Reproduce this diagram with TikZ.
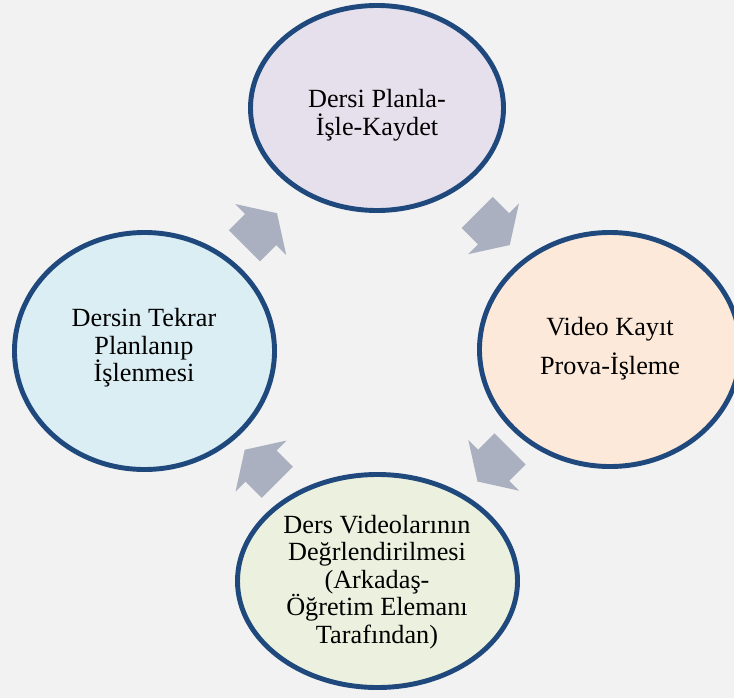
\documentclass[tikz,border=0pt]{standalone}
\usepackage{fontspec}
\setmainfont{Liberation Serif}
\usetikzlibrary{shapes.geometric,calc}
\definecolor{zemin}{HTML}{F2F2F2}
\definecolor{kenar}{HTML}{1F497D}
\definecolor{okgri}{HTML}{AAB0C0}
\definecolor{mor}{HTML}{E5E0EC}
\definecolor{seftali}{HTML}{FDE9D9}
\definecolor{yesil}{HTML}{EBF1DE}
\definecolor{mavi}{HTML}{DBEEF4}

\begin{document}
\begin{tikzpicture}[x=0.03cm, y=-0.03cm,
  halka/.style={draw=kenar, ellipse, line width=4.2pt, inner sep=0pt},
  yazi/.style={align=center, font=\fontsize{22.4}{23.5}\selectfont}]
\fill[zemin] (0,0) rectangle (734,698);
\useasboundingbox (0,0) rectangle (734,698);
\clip (0,0) rectangle (734,698);

\node[halka, fill=mor, minimum width=7.59cm, minimum height=6.15cm] (ust) at (377,108){};
\node[halka, fill=seftali, minimum width=7.83cm, minimum height=7.02cm] (sag) at (610,349.5){};
\node[halka, fill=yesil, minimum width=8.4cm, minimum height=6.39cm] (alt) at (377.5,581){};
\node[halka, fill=mavi, minimum width=7.8cm, minimum height=7.11cm] (sol) at (144.5,351){};

\node[yazi] (ust-y) at (377,115){Dersi Planla-\\İşle-Kaydet};
\node[yazi] (sag-y) at (610,349){Video Kayıt\\[9.7pt]Prova-İşleme};
\node[yazi] (alt-y) at (377,582){Ders Videolarının\\Değrlendirilmesi\\(Arkadaş-\\Öğretim Elemanı\\Tarafından)};
\node[yazi] (sol-y) at (144,348){Dersin Tekrar\\Planlanıp\\İşlenmesi};

% dongu oklari
\foreach \a/\b/\r in {sol/ust/45, ust/sag/-45, sag/alt/-135, alt/sol/135}
  \fill[okgri, shift={($(\a)!0.5!(\b)$)}, rotate=\r]
    (-23,-22) -- (0,-22) -- (0,-36) -- (23,0) -- (0,36) -- (0,22) -- (-23,22) -- cycle;
\end{tikzpicture}
\end{document}
